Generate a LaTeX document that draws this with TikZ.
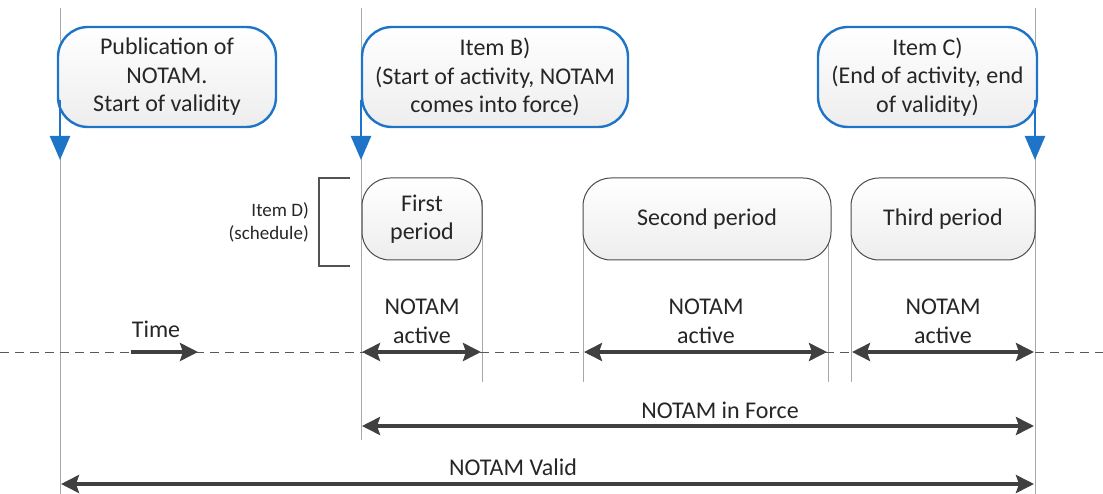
\documentclass[tikz,border=0pt]{standalone}
\usepackage{fontspec}
\setmainfont{Carlito}
\usetikzlibrary{arrows.meta}
\definecolor{bluec}{HTML}{1E74C6}
\definecolor{darkc}{HTML}{404040}
\definecolor{vline}{HTML}{A8A8A8}
\begin{document}
\begin{tikzpicture}[x=1pt,y=-1pt,
  bluebox/.style={draw=bluec,line width=2.4pt,rounded corners=30pt,top color=white,bottom color=gray!14,
    minimum height=100pt,align=center,font=\fontsize{24}{28.5}\selectfont,text=black!85,inner sep=0pt},
  perbox/.style={draw=black!70,line width=1pt,rounded corners=28pt,top color=white,bottom color=gray!14,
    minimum height=82pt,align=center,font=\fontsize{24}{28.5}\selectfont,text=black!85,inner sep=0pt},
  bluearrow/.style={draw=bluec,line width=2.4pt,-{Triangle[length=24pt,width=20pt]}},
  guide/.style={draw=vline,line width=1pt},
  tip/.style={Stealth[length=18pt,width=18pt,inset=3pt]},
  span/.style={draw=darkc,line width=3.5pt,{Stealth[length=18pt,width=18pt,inset=3pt]}-{Stealth[length=18pt,width=18pt,inset=3pt]}},
  lbl/.style={font=\fontsize{24}{29}\selectfont,text=black!85,align=center,inner sep=0pt},
  small/.style={font=\fontsize{19}{23}\selectfont,text=black!85,align=right,inner sep=0pt}]
\useasboundingbox (0,0) rectangle (1103,494);
% guide lines
\coordinate (g1t) at (60,8); \coordinate (g1b) at (60,494);
\coordinate (g2t) at (361,8); \coordinate (g2b) at (361,440);
\coordinate (g3t) at (1035,8); \coordinate (g3b) at (1035,494);
\draw[guide] (g1t) -- (g1b);
\draw[guide] (g2t) -- (g2b);
\draw[guide] (g3t) -- (g3b);
\coordinate (p1t) at (482,200); \coordinate (p1b) at (482,382);
\coordinate (p2t) at (583,200); \coordinate (p2b) at (583,382);
\coordinate (p3t) at (828,200); \coordinate (p3b) at (828,382);
\coordinate (p4t) at (851,200); \coordinate (p4b) at (851,382);
\draw[guide] (p1t) -- (p1b);
\draw[guide] (p2t) -- (p2b);
\draw[guide] (p3t) -- (p3b);
\draw[guide] (p4t) -- (p4b);
% dashed time line
\coordinate (tl) at (0,352); \coordinate (tr) at (1103,352);
\draw[draw=black!65,line width=1pt,dash pattern=on 9pt off 6pt] (tl) -- (tr);
% blue boxes
\node[bluebox,minimum width=218pt] (b1) at (167,77) {Publication of\\NOTAM.\\Start of validity};
\node[bluebox,minimum width=266pt] (b2) at (495,77) {Item B)\\(Start of activity, NOTAM\\comes into force)};
\node[bluebox,minimum width=219pt] (b3) at (927.5,77) {Item C)\\(End of activity, end\\of validity)};
\coordinate (a1s) at (60,100); \coordinate (a1e) at (60,160);
\coordinate (a2s) at (361,100); \coordinate (a2e) at (361,160);
\coordinate (a3s) at (1035,100); \coordinate (a3e) at (1035,160);
\draw[bluearrow] (a1s) -- (a1e);
\draw[bluearrow] (a2s) -- (a2e);
\draw[bluearrow] (a3s) -- (a3e);
% period boxes
\node[perbox,minimum width=120pt] (f1) at (422,219) {First\\period};
\node[perbox,minimum width=248pt] (f2) at (707,219) {Second period};
\node[perbox,minimum width=184pt] (f3) at (943,219) {Third period};
% bracket
\coordinate (k1) at (350,178); \coordinate (k2) at (319,178);
\coordinate (k3) at (319,266); \coordinate (k4) at (350,266);
\draw[draw=black!68,line width=2.6pt] (k1) -- (k2) -- (k3) -- (k4);
\node[small,anchor=east] (sd) at (309,222) {Item D)\\(schedule)};
% time
\node[lbl] (time) at (156,329) {Time};
\coordinate (ts) at (131,352); \coordinate (te) at (198,352);
\draw[draw=darkc,line width=3.5pt,-{Stealth[length=18pt,width=18pt,inset=3pt]}] (ts) -- (te);
% active spans
\coordinate (s1a) at (362,352); \coordinate (s1b) at (481,352);
\coordinate (s2a) at (584,352); \coordinate (s2b) at (827,352);
\coordinate (s3a) at (852,352); \coordinate (s3b) at (1034,352);
\draw[span] (s1a) -- (s1b);
\draw[span] (s2a) -- (s2b);
\draw[span] (s3a) -- (s3b);
\node[lbl] (n1) at (422,321) {NOTAM\\active};
\node[lbl] (n2) at (706,321) {NOTAM\\active};
\node[lbl] (n3) at (943,321) {NOTAM\\active};
% in force / valid
\coordinate (fa) at (362,426); \coordinate (fb) at (1034,426);
\draw[span] (fa) -- (fb);
\node[lbl] (nf) at (720,410) {NOTAM in Force};
\coordinate (va) at (61,484); \coordinate (vb) at (1034,484);
\draw[span] (va) -- (vb);
\node[lbl] (nv) at (513,467) {NOTAM Valid};
\end{tikzpicture}
\end{document}
